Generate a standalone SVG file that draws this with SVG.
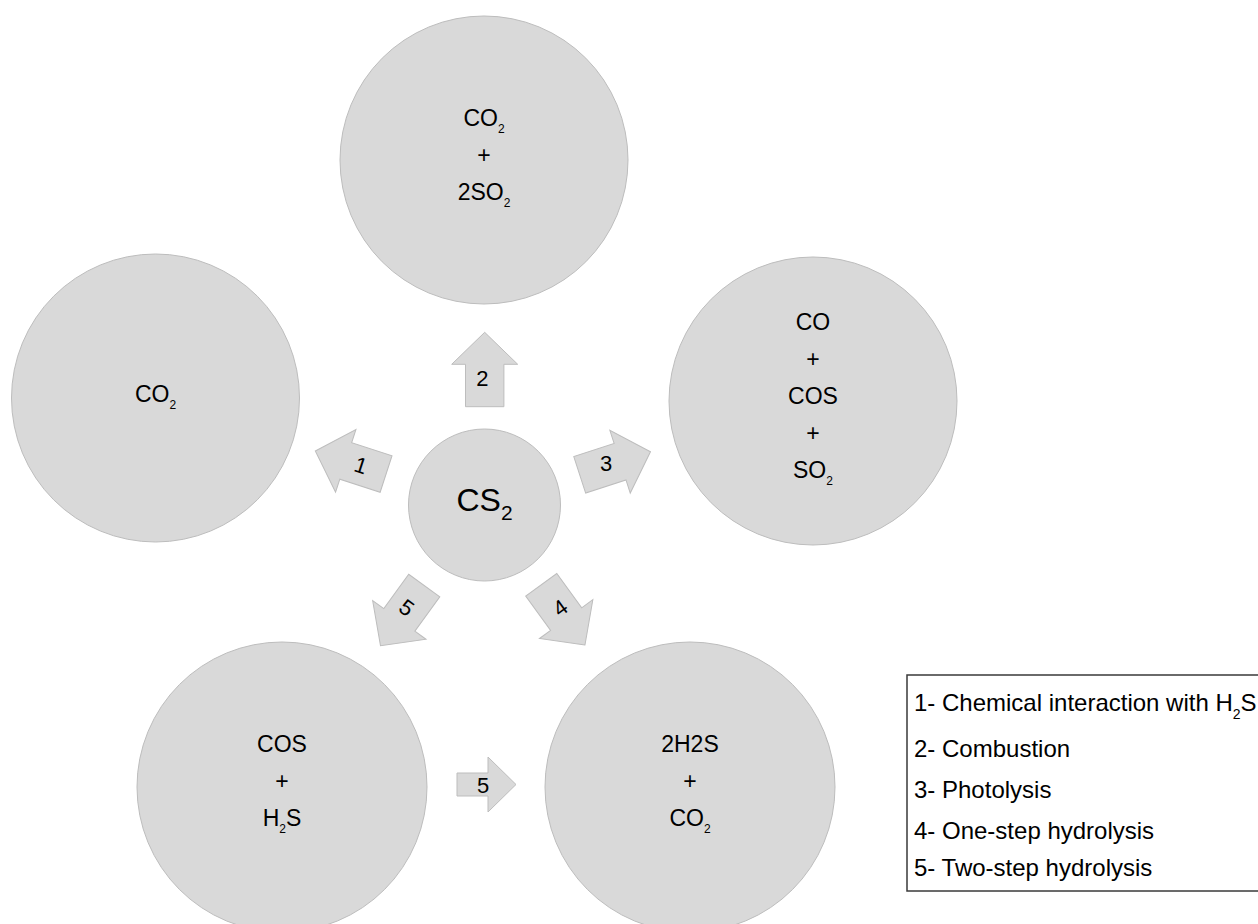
<svg xmlns="http://www.w3.org/2000/svg" width="1258" height="924" viewBox="0 0 1258 924">
  <style>
    .node { fill: #d9d9d9; stroke: #bdbdbd; stroke-width: 1; }
    .arrow { fill: #d9d9d9; stroke: #bdbdbd; stroke-width: 1; }
    .t { font-family: "Liberation Sans", Arial, sans-serif; fill: #000; text-anchor: middle; font-size: 23px; }
    .big { font-size: 32px; }
    .al { font-family: "Liberation Sans", Arial, sans-serif; fill: #000; text-anchor: middle; font-size: 22px; }
    .leg { font-family: "Liberation Sans", Arial, sans-serif; fill: #000; font-size: 24px; }
  </style>
  <defs>
    <path id="upArrow" d="M0,-37.2 L33,-5.2 L19.2,-5.2 L19.2,37.2 L-19.2,37.2 L-19.2,-5.2 L-33,-5.2 Z"/>
  </defs>
  <rect width="1258" height="924" fill="#ffffff"/>

  <g id="n_combustion">
    <circle class="node" cx="484" cy="160" r="144"/>
    <text class="t" x="484" y="126">CO<tspan font-size="12" dy="7">2</tspan></text>
    <text class="t" x="484" y="163">+</text>
    <text class="t" x="484" y="200">2SO<tspan font-size="12" dy="7">2</tspan></text>
  </g>

  <g id="n_h2s_interaction">
    <circle class="node" cx="155.5" cy="398" r="144"/>
    <text class="t" x="155.5" y="402">CO<tspan font-size="12" dy="7">2</tspan></text>
  </g>

  <g id="n_photolysis">
    <circle class="node" cx="813" cy="401" r="144"/>
    <text class="t" x="813" y="330">CO</text>
    <text class="t" x="813" y="367">+</text>
    <text class="t" x="813" y="404">COS</text>
    <text class="t" x="813" y="441">+</text>
    <text class="t" x="813" y="478">SO<tspan font-size="12" dy="7">2</tspan></text>
  </g>

  <g id="n_cos_h2s">
    <circle class="node" cx="282" cy="787" r="145"/>
    <text class="t" x="282" y="752">COS</text>
    <text class="t" x="282" y="789">+</text>
    <text class="t" x="282" y="826">H<tspan font-size="12" dy="7">2</tspan><tspan dy="-7">S</tspan></text>
  </g>

  <g id="n_h2s_co2">
    <circle class="node" cx="690" cy="787" r="145"/>
    <text class="t" x="690" y="752">2H2S</text>
    <text class="t" x="690" y="789">+</text>
    <text class="t" x="690" y="826">CO<tspan font-size="12" dy="7">2</tspan></text>
  </g>

  <g id="n_cs2">
    <circle class="node" cx="484.5" cy="505" r="76"/>
    <text class="t big" x="484.5" y="511">CS<tspan font-size="21" dy="9">2</tspan></text>
  </g>

  <g id="connectors">
    <use href="#upArrow" class="arrow" transform="translate(350.7,462.5) rotate(-72)"/>
    <use href="#upArrow" class="arrow" transform="translate(484.7,369.5)"/>
    <use href="#upArrow" class="arrow" transform="translate(615.1,463.3) rotate(72)"/>
    <use href="#upArrow" class="arrow" transform="translate(563.1,614.9) rotate(144)"/>
    <use href="#upArrow" class="arrow" transform="translate(402.4,615.7) rotate(-144)"/>
    <path class="arrow" d="M457,773 L488,773 L488,757 L516,784.5 L488,812 L488,796 L457,796 Z"/>
    <text class="al" transform="translate(361,465) rotate(18)" y="8">1</text>
    <text class="al" transform="translate(482.3,378)" y="8">2</text>
    <text class="al" transform="translate(606,463)" y="8">3</text>
    <text class="al" transform="translate(560,607.5) rotate(-36)" y="8">4</text>
    <text class="al" transform="translate(407,607.5) rotate(36)" y="8">5</text>
    <text class="al" transform="translate(483,785)" y="8">5</text>
  </g>

  <g id="legend">
    <rect x="907" y="675" width="370" height="216" fill="#ffffff" stroke="#3a3a3a" stroke-width="1.5"/>
    <text class="leg" x="914" y="711">1- Chemical interaction with H<tspan font-size="14" dy="8">2</tspan><tspan dy="-8">S</tspan></text>
    <text class="leg" x="914" y="757">2- Combustion</text>
    <text class="leg" x="914" y="798">3- Photolysis</text>
    <text class="leg" x="914" y="839">4- One-step hydrolysis</text>
    <text class="leg" x="914" y="876">5- Two-step hydrolysis</text>
  </g>
</svg>
